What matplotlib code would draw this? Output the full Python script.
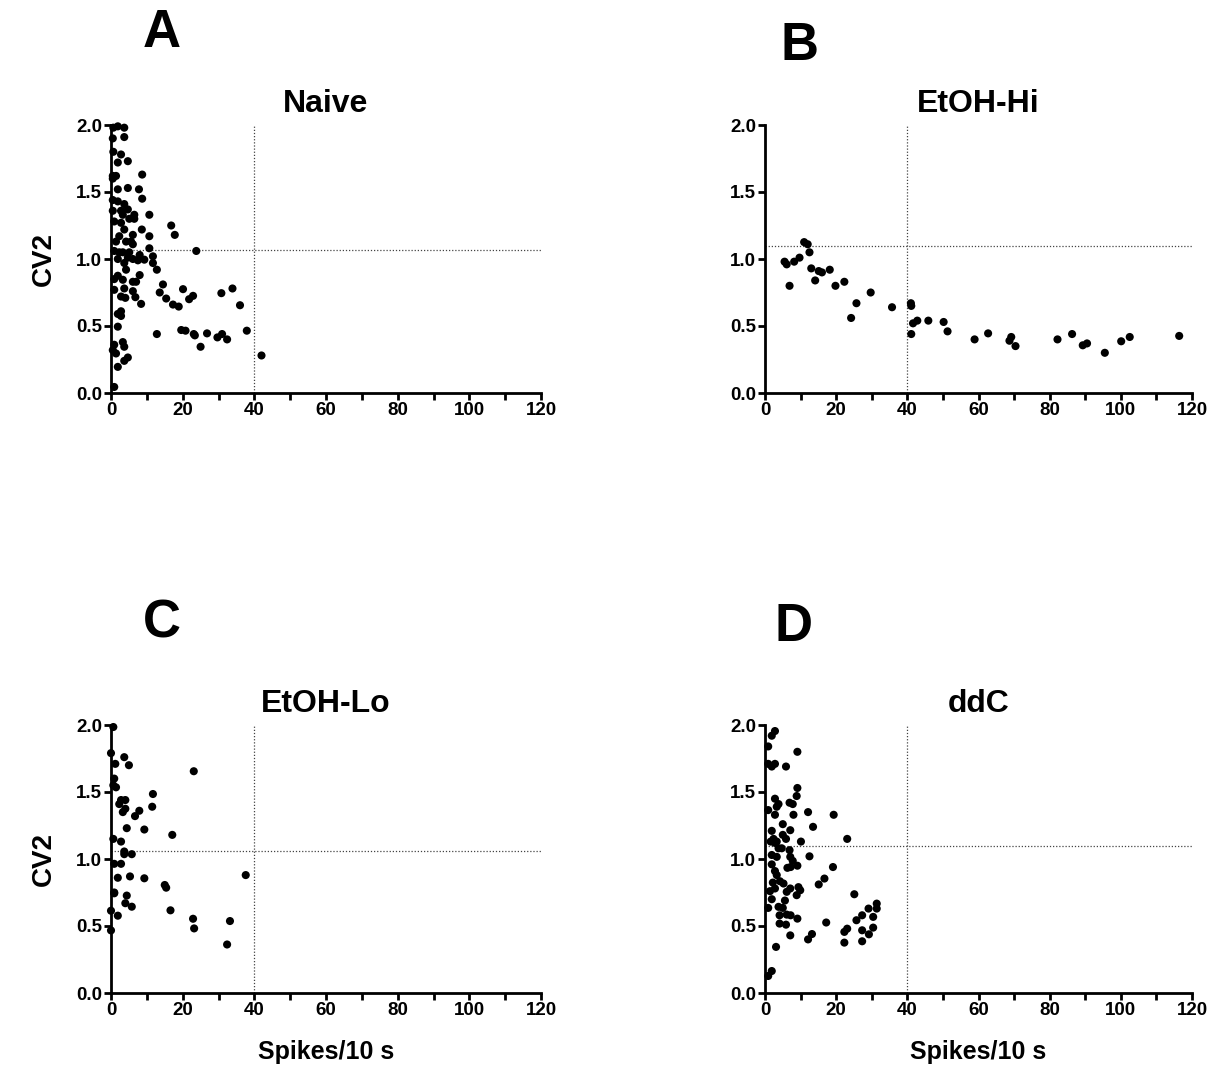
import matplotlib
matplotlib.use("Agg")
import matplotlib.pyplot as plt
from matplotlib.ticker import MultipleLocator

plt.rcParams['font.family'] = ['Liberation Sans', 'DejaVu Sans']

# ---------------- data ----------------
naive_x = [0.65, 1.9, 3.7, 0.5, 3.7, 0.65, 2.8, 1.9, 4.7, 8.7, 0.5, 1.4, 0.5, 1.9, 4.7, 7.8,
           8.7, 0.5, 1.9, 3.7, 0.5, 2.8, 4.7, 6.5, 10.7, 3.3, 0.9, 2.8, 5.1, 6.5, 16.8, 3.7,
           8.6, 17.8, 2.3, 6.1, 10.7, 1.4, 4.2, 5.6, 6.1, 10.7, 23.8, 0.9, 2.3, 3.3, 5.1, 8.0,
           11.7, 1.9, 3.7, 4.7, 6.1, 7.5, 9.3, 11.7, 4.2, 12.8, 1.9, 8.0, 0.9, 3.3, 6.1, 7.0,
           14.5, 20.1, 30.8, 33.9, 0.9, 3.7, 6.1, 13.6, 22.9, 21.8, 2.8, 4.0, 15.4, 6.8, 17.3,
           18.9, 8.4, 36.0, 1.9, 2.8, 2.8, 1.9, 12.8, 19.6, 20.8, 23.1, 23.4, 26.8, 29.7, 31.0,
           32.4, 37.9, 25.0, 42.0, 0.9, 0.5, 1.4, 3.3, 3.7, 3.7, 4.7, 1.9, 0.9]
naive_y = [1.98, 1.99, 1.98, 1.90, 1.91, 1.80, 1.78, 1.72, 1.73, 1.63, 1.62, 1.62, 1.60, 1.52,
           1.53, 1.52, 1.45, 1.44, 1.43, 1.41, 1.36, 1.36, 1.37, 1.33, 1.33, 1.33, 1.28, 1.27,
           1.30, 1.30, 1.25, 1.22, 1.22, 1.18, 1.17, 1.18, 1.17, 1.13, 1.13, 1.13, 1.11, 1.08,
           1.06, 1.06, 1.05, 1.05, 1.05, 1.03, 1.02, 1.00, 0.97, 1.01, 1.00, 0.99, 0.995, 0.97,
           0.92, 0.92, 0.875, 0.88, 0.85, 0.845, 0.83, 0.83, 0.81, 0.775, 0.745, 0.78, 0.77,
           0.78, 0.76, 0.75, 0.725, 0.70, 0.72, 0.71, 0.705, 0.715, 0.66, 0.645, 0.665, 0.655,
           0.59, 0.61, 0.575, 0.495, 0.44, 0.47, 0.465, 0.44, 0.43, 0.445, 0.415, 0.44, 0.40,
           0.465, 0.345, 0.28, 0.36, 0.32, 0.295, 0.38, 0.345, 0.24, 0.265, 0.195, 0.045]

hi_x = [5.5, 6.1, 6.9, 8.2, 9.7, 11.0, 12.0, 12.5, 13.0, 14.1, 15.1, 16.0, 18.2, 19.8, 22.3,
        24.2, 25.7, 29.7, 35.7, 41.0, 41.1, 41.1, 41.6, 42.8, 45.9, 50.2, 51.3, 58.9, 62.7,
        69.2, 68.7, 70.4, 82.2, 86.3, 89.3, 90.5, 95.5, 100.1, 102.5, 116.4]
hi_y = [0.98, 0.96, 0.80, 0.98, 1.01, 1.126, 1.11, 1.05, 0.93, 0.84, 0.91, 0.90, 0.92, 0.80,
        0.83, 0.56, 0.67, 0.75, 0.64, 0.67, 0.65, 0.44, 0.52, 0.54, 0.54, 0.53, 0.46, 0.40,
        0.445, 0.418, 0.39, 0.35, 0.40, 0.44, 0.356, 0.37, 0.30, 0.386, 0.418, 0.426]

lo_x = [0.65, 0.0, 3.7, 1.2, 5.0, 23.1, 0.9, 0.65, 1.4, 11.7, 2.8, 4.0, 2.3, 11.5, 4.0, 3.3,
        7.9, 6.7, 4.4, 9.3, 17.1, 0.65, 2.8, 3.7, 3.7, 5.8, 0.9, 2.8, 1.9, 5.3, 9.3, 37.6,
        15.0, 15.4, 0.9, 0.9, 4.4, 4.0, 5.8, 0.0, 1.9, 16.6, 22.9, 23.2, 33.2, 0.0, 32.4]
lo_y = [1.985, 1.79, 1.76, 1.71, 1.70, 1.655, 1.60, 1.55, 1.535, 1.485, 1.44, 1.44, 1.41,
        1.39, 1.375, 1.35, 1.36, 1.32, 1.23, 1.22, 1.18, 1.15, 1.13, 1.056, 1.036, 1.036,
        0.964, 0.964, 0.86, 0.87, 0.856, 0.88, 0.806, 0.786, 0.75, 0.744, 0.727, 0.67, 0.644,
        0.614, 0.577, 0.617, 0.554, 0.482, 0.537, 0.467, 0.362]

ddc_x = [0.9, 1.9, 2.8, 9.1, 0.9, 1.9, 2.8, 5.9, 9.1, 8.9, 2.8, 0.9, 6.9, 7.8, 3.8, 3.3, 2.8,
         8.0, 12.1, 19.3, 13.5, 5.0, 7.1, 1.9, 5.0, 2.4, 3.3, 2.8, 23.1, 5.9, 10.1, 1.6, 3.8,
         4.7, 6.9, 1.9, 3.3, 12.5, 7.1, 7.8, 1.9, 6.3, 7.2, 9.1, 19.1, 2.8, 3.3, 16.7, 15.1,
         2.2, 4.2, 5.2, 1.4, 2.8, 7.1, 6.1, 9.4, 9.9, 8.9, 5.6, 25.1, 1.9, 0.9, 3.8, 5.0,
         31.4, 31.4, 29.1, 4.1, 6.1, 7.2, 9.1, 27.3, 30.4, 25.7, 17.2, 4.1, 5.9, 23.1, 22.3,
         30.4, 27.3, 13.2, 12.1, 7.1, 29.2, 22.3, 27.3, 3.1, 1.9, 0.9]
ddc_y = [1.84, 1.92, 1.955, 1.80, 1.71, 1.69, 1.71, 1.69, 1.53, 1.47, 1.45, 1.365, 1.42, 1.41,
         1.41, 1.39, 1.33, 1.33, 1.35, 1.33, 1.24, 1.26, 1.215, 1.21, 1.18, 1.15, 1.13, 1.12,
         1.15, 1.15, 1.13, 1.13, 1.08, 1.08, 1.066, 1.03, 1.016, 1.02, 1.016, 0.986, 0.96,
         0.934, 0.94, 0.95, 0.94, 0.91, 0.88, 0.854, 0.81, 0.824, 0.834, 0.817, 0.76, 0.78,
         0.78, 0.755, 0.79, 0.767, 0.73, 0.69, 0.737, 0.70, 0.635, 0.643, 0.635, 0.667, 0.63,
         0.63, 0.58, 0.585, 0.58, 0.555, 0.58, 0.568, 0.543, 0.526, 0.518, 0.51, 0.48, 0.456,
         0.488, 0.468, 0.44, 0.40, 0.43, 0.438, 0.376, 0.386, 0.344, 0.164, 0.127]

titles = ["Naive", "EtOH-Hi", "EtOH-Lo", "ddC"]
letters = ["A", "B", "C", "D"]
hlines = [1.07, 1.10, 1.06, 1.10]
vline = 40
xlabel = "Spikes/10 s"
ylabel = "CV2"

series = [(naive_x, naive_y), (hi_x, hi_y), (lo_x, lo_y), (ddc_x, ddc_y)]

# ---------------- layout ----------------
W, H = 1216, 1078
fig = plt.figure(figsize=(W / 100, H / 100), dpi=100)

boxes = [(111, 541, 125, 393), (765, 1192, 125, 393),
         (111, 541, 725, 993), (765, 1192, 725, 993)]

for i, (l, r, t, b) in enumerate(boxes):
    ax = fig.add_axes([l / W, (H - b) / H, (r - l) / W, (b - t) / H])
    xs, ys = series[i]
    ax.scatter(xs, ys, s=34, color="black", edgecolors="none", zorder=3, clip_on=False)
    ax.plot([0, 120], [hlines[i], hlines[i]], linestyle=(0, (1, 1.5)), color="#444444",
            linewidth=0.9, zorder=1)
    ax.plot([vline, vline], [0, 2.0], linestyle=(0, (1, 1.5)), color="#444444",
            linewidth=0.9, zorder=1)
    ax.set_xlim(0, 120)
    ax.set_ylim(0, 2.0)
    ax.xaxis.set_major_locator(MultipleLocator(20))
    ax.xaxis.set_minor_locator(MultipleLocator(10))
    ax.set_yticks([0, 0.5, 1.0, 1.5, 2.0])
    ax.set_yticklabels(["0.0", "0.5", "1.0", "1.5", "2.0"])
    for sp in ["top", "right"]:
        ax.spines[sp].set_visible(False)
    for sp in ["left", "bottom"]:
        ax.spines[sp].set_linewidth(2)
    ax.tick_params(which="both", direction="out", length=5, width=2, pad=1.5)
    for lab in ax.get_xticklabels() + ax.get_yticklabels():
        lab.set_fontweight("bold")
        lab.set_fontsize(13.5)
    ax.set_title(titles[i], fontsize=23, fontweight="bold", pad=9)
    if i in (0, 2):
        ax.set_ylabel(ylabel, fontsize=20, fontweight="bold", labelpad=14)
    if i in (2, 3):
        ax.set_xlabel(xlabel, fontsize=18, fontweight="bold", labelpad=15)

letter_pos = [(162, 47), (799, 60), (162, 638), (793, 641)]
for (x, y), s in zip(letter_pos, letters):
    fig.text(x / W, 1 - y / H, s, fontsize=38, fontweight="bold", ha="center", va="baseline")

fig.savefig("out.png", dpi=100)
